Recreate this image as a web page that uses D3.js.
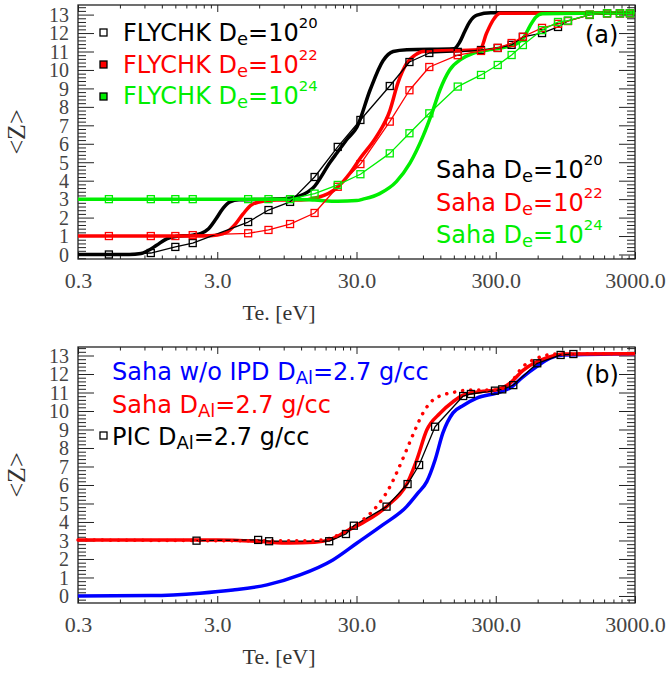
<!DOCTYPE html>
<html>
<head>
<meta charset="utf-8">
<script src="https://cdn.jsdelivr.net/npm/d3@7"></script>
<style>
  body { margin: 0; background: #fff; }
  svg { display: block; }
</style>
</head>
<body>
<div id="chart"></div>
<script>
// ---- data ----
const X_MAJOR = [0.3, 3, 30, 300, 3000];
const X_LABELS = ["0.3", "3.0", "30.0", "300.0", "3000.0"];
const Y_LABELS = d3.range(0, 14);

// FLYCHK points, panel (a)
const flyTe = [0.5, 1, 1.5, 2, 5, 7, 10, 15, 22, 32, 52, 72, 100, 160, 235, 310, 390, 470, 645, 840, 990, 1420, 1890, 2340, 2760];
const flyZ20 = [0.0, 0.08, 0.41, 0.62, 1.76, 2.41, 2.85, 4.2, 5.83, 7.29, 9.13, 10.43, 10.92, 10.98, 11.08, 11.19, 11.36, 11.79, 12.0, 12.33, 12.66, 12.98, 13.07, 13.07, 13.07];
const flyZ22 = [1.0, 1.0, 1.0, 1.05, 1.15, 1.33, 1.65, 2.25, 3.67, 4.9, 7.2, 8.9, 10.16, 10.8, 11.03, 11.2, 11.46, 11.8, 12.28, 12.5, 12.65, 13.0, 13.07, 13.07, 13.07];
const flyZ24 = [3.0, 3.0, 3.0, 3.0, 3.0, 3.0, 3.0, 3.3, 3.77, 4.35, 5.48, 6.57, 7.65, 9.1, 9.73, 10.27, 10.81, 11.35, 12.16, 12.6, 12.67, 13.0, 13.07, 13.07, 13.07];

// Saha curves, panel (a)
const sahaTe20 = [0.3, 0.7, 0.85, 0.95, 1.1, 1.3, 1.5, 2.0, 2.3, 2.6, 2.95, 3.3, 3.7, 4.3, 7, 10, 12, 14.6, 19.4, 21.7, 26, 30.2, 37.5, 46.5, 55, 69, 150, 165, 180, 195, 220, 277, 3000];
const sahaZ20 = [0, 0, 0.05, 0.2, 0.5, 0.85, 0.97, 1.05, 1.15, 1.4, 1.95, 2.5, 2.85, 2.97, 3.0, 3.05, 3.2, 3.6, 5.0, 5.5, 6.3, 6.9, 8.9, 10.5, 11.0, 11.1, 11.15, 11.5, 12.1, 12.6, 12.97, 13.1, 13.1];
const sahaTe22 = [0.3, 2.4, 3.0, 3.5, 4.0, 4.6, 5.3, 6.5, 8, 12, 16, 21.6, 26.9, 31.8, 41.8, 52.1, 59.5, 68.7, 78.9, 90.2, 231, 258, 287, 322, 3000];
const sahaZ22 = [1.0, 1.0, 1.05, 1.2, 1.6, 2.2, 2.7, 2.9, 2.95, 2.95, 3.1, 3.6, 4.4, 5.2, 6.4, 7.8, 9.3, 10.36, 10.8, 11.0, 11.1, 12.0, 12.7, 13.07, 13.1];
const sahaTe24 = [0.3, 10, 15, 22, 30, 33.4, 44, 58, 72.6, 90, 106, 119, 140, 171, 206, 273, 380, 430, 480, 530, 580, 650, 3000];
const sahaZ24 = [3.0, 3.0, 2.95, 2.88, 2.92, 3.0, 3.3, 3.95, 4.95, 6.4, 7.8, 8.9, 10.0, 10.6, 10.9, 11.1, 11.3, 11.45, 11.8, 12.4, 12.85, 13.05, 13.1];

// panel (b)
const noIpdTe = [0.3, 1.0, 2.25, 3.89, 6.83, 11.8, 20.3, 30.1, 46.3, 68.7, 83, 95.9, 110, 125, 148, 175, 219, 305, 380, 471, 591, 737, 913, 3000];
const noIpdZ = [0.0, 0.02, 0.15, 0.32, 0.6, 1.14, 1.95, 2.85, 3.84, 4.83, 5.57, 6.18, 7.35, 8.8, 9.9, 10.3, 10.7, 10.97, 11.24, 11.85, 12.4, 12.86, 13.03, 13.1];
const sahaAlTe = [0.3, 3, 6, 10, 15, 19, 22.8, 25.4, 33.4, 49.3, 70.2, 81.2, 95.9, 119.4, 148, 175, 231, 305, 380, 471, 591, 737, 913, 3000];
const sahaAlZ = [3.03, 3.02, 2.95, 2.86, 2.9, 3.03, 3.3, 3.5, 3.96, 4.83, 6.18, 7.35, 8.97, 9.88, 10.5, 10.86, 11.04, 11.14, 11.5, 12.2, 12.66, 12.94, 13.08, 13.1];
const dotTe = [0.3, 10, 15, 19.4, 28.3, 41.8, 52.1, 59.5, 68.7, 78.9, 90.1, 106.4, 125, 157.4, 196, 305, 380, 471, 556, 655, 822, 3000];
const dotZ = [3.03, 2.98, 3.0, 3.12, 3.75, 4.83, 5.9, 6.81, 7.9, 8.97, 9.89, 10.6, 10.86, 11.04, 11.14, 11.14, 11.5, 12.4, 12.76, 12.97, 13.08, 13.1];
const picTe = [2.13, 5.9, 7.07, 19.1, 25.2, 28.7, 49.3, 69.8, 84.5, 110, 175, 199, 296, 334, 401, 596, 877, 1083];
const picZ = [2.99, 3.03, 2.96, 2.96, 3.35, 3.8, 4.83, 6.05, 7.08, 9.15, 10.81, 10.92, 11.1, 11.17, 11.4, 12.58, 13.03, 13.08];

const GREEN = "#00ee00";

// ---- layout ----
const WIDTH = 669, HEIGHT = 675;
const BOX_A = { left: 78, right: 635, top: 5, bottom: 259 };
const BOX_B = { left: 78, right: 635, top: 347, bottom: 603 };
const SERIF = "'Liberation Serif', 'Times New Roman', serif";

const svg = d3.select("#chart").append("svg")
  .attr("width", WIDTH).attr("height", HEIGHT);

const X_SCALE = d3.scaleLog().domain([0.3, 3000]).range([BOX_A.left, BOX_A.right]);
const Y_A = d3.scaleLinear().domain([-0.244, 13.52]).range([BOX_A.bottom, BOX_A.top]);
const Y_B = d3.scaleLinear().domain([-0.38, 13.46]).range([BOX_B.bottom, BOX_B.top]);

const xMinor = [];
X_MAJOR.slice(0, -1).forEach((m) => {
  for (let k = 2; k <= 9; k++) xMinor.push(m * k);
});
const yMinor = d3.range(-1, 68).map((i) => i / 5).filter((v) => Math.abs(v - Math.round(v)) > 0.01);

function drawAxes(box, yScale) {
  const g = svg.append("g").attr("color", "#222");
  const tick = (axis, tr) => g.append("g").attr("transform", tr).call(axis)
    .call((s) => s.select(".domain").remove());

  tick(d3.axisBottom(X_SCALE).tickValues(xMinor).tickSize(-3.5).tickFormat(""), `translate(0,${box.bottom})`);
  tick(d3.axisTop(X_SCALE).tickValues(xMinor).tickSize(-3.5).tickFormat(""), `translate(0,${box.top})`);
  tick(d3.axisTop(X_SCALE).tickValues(X_MAJOR).tickSize(-7).tickFormat(""), `translate(0,${box.top})`);
  const xb = tick(d3.axisBottom(X_SCALE).tickValues(X_MAJOR).tickSize(-7).tickPadding(13)
    .tickFormat((d, i) => X_LABELS[i]), `translate(0,${box.bottom})`);
  xb.attr("font-family", SERIF).attr("font-size", 22);
  xb.selectAll("text").attr("fill", "#444");

  tick(d3.axisLeft(yScale).tickValues(yMinor).tickSize(-8).tickFormat(""), `translate(${box.left},0)`);
  tick(d3.axisRight(yScale).tickValues(yMinor).tickSize(-8).tickFormat(""), `translate(${box.right},0)`);
  tick(d3.axisRight(yScale).tickValues(Y_LABELS).tickSize(-16).tickFormat(""), `translate(${box.right},0)`);
  const yl = tick(d3.axisLeft(yScale).tickValues(Y_LABELS).tickSize(-16).tickPadding(9), `translate(${box.left},0)`);
  yl.attr("font-family", SERIF).attr("font-size", 20);
  yl.selectAll("text").attr("fill", "#444").attr("dy", "0.34em");

  g.append("rect")
    .attr("x", box.left).attr("y", box.top)
    .attr("width", box.right - box.left).attr("height", box.bottom - box.top)
    .attr("fill", "none").attr("stroke", "#222").attr("stroke-width", 1.3);

  svg.append("text")
    .attr("transform", `translate(25,${(box.top + box.bottom) / 2}) rotate(-90)`)
    .attr("text-anchor", "middle")
    .attr("font-family", SERIF).attr("font-size", 26)
    .attr("fill", "#333")
    .text("<Z>");

  svg.append("text")
    .attr("x", 279).attr("y", box.bottom + 61)
    .attr("text-anchor", "middle")
    .attr("font-family", SERIF).attr("font-size", 22)
    .attr("fill", "#333")
    .text("Te. [eV]");
}

function drawLine(yScale, te, z, color, width, curve, dash) {
  const line = d3.line()
    .x((d) => X_SCALE(d[0]))
    .y((d) => yScale(d[1]))
    .curve(curve);
  const p = svg.append("path")
    .datum(te.map((t, i) => [t, z[i]]))
    .attr("d", line)
    .attr("fill", "none")
    .attr("stroke", color)
    .attr("stroke-width", width)
    .attr("stroke-linejoin", "round");
  if (dash) p.attr("stroke-dasharray", dash).attr("stroke-linecap", "round");
  return p;
}

function drawSquares(yScale, te, z, color) {
  const s = 7;
  svg.append("g").selectAll("rect")
    .data(te.map((t, i) => [t, z[i]]))
    .enter()
    .append("rect")
    .attr("x", (d) => X_SCALE(d[0]) - s / 2)
    .attr("y", (d) => yScale(d[1]) - s / 2)
    .attr("width", s).attr("height", s)
    .attr("fill", "none")
    .attr("stroke", color)
    .attr("stroke-width", 1.3);
}

// text with optional sub/superscript parts: [string, "n"|"sub"|"sup"]
function richText(x, y, parts, color, size) {
  const t = svg.append("text")
    .attr("x", x).attr("y", y)
    .attr("font-family", "'DejaVu Sans', sans-serif")
    .attr("font-size", size)
    .attr("fill", color);
  let shift = 0;
  parts.forEach(([str, kind]) => {
    const target = kind === "sub" ? 4 : kind === "sup" ? -13 : 0;
    const fs = kind === "sub" ? size * 0.75 : kind === "sup" ? size * 0.62 : size;
    t.append("tspan")
      .attr("dy", target - shift)
      .attr("font-size", fs)
      .text(str);
    shift = target;
  });
  return t;
}

// ---- panel (a) ----
drawAxes(BOX_A, Y_A);
drawLine(Y_A, sahaTe20, sahaZ20, "#000", 3.5, d3.curveMonotoneX);
drawLine(Y_A, sahaTe22, sahaZ22, "#ff0000", 3.5, d3.curveMonotoneX);
drawLine(Y_A, sahaTe24, sahaZ24, GREEN, 3.5, d3.curveMonotoneX);
drawLine(Y_A, flyTe, flyZ20, "#000", 1.3, d3.curveLinear);
drawSquares(Y_A, flyTe, flyZ20, "#000");
drawLine(Y_A, flyTe, flyZ22, "#ff0000", 1.3, d3.curveLinear);
drawSquares(Y_A, flyTe, flyZ22, "#ff0000");
drawLine(Y_A, flyTe, flyZ24, GREEN, 1.3, d3.curveLinear);
drawSquares(Y_A, flyTe, flyZ24, GREEN);

const legA = [
  { exp: "20", color: "#000", fill: "#fff" },
  { exp: "22", color: "#ff0000", fill: "#ff0000" },
  { exp: "24", color: GREEN, fill: GREEN },
];
legA.forEach((d, i) => {
  svg.append("rect")
    .attr("x", 100).attr("y", 29 + i * 32)
    .attr("width", 7).attr("height", 7)
    .attr("fill", d.fill).attr("stroke", "#000").attr("stroke-width", 1.3);
  richText(123, 41 + i * 31.5, [["FLYCHK D", "n"], ["e", "sub"], ["=10", "n"], [d.exp, "sup"]], d.color, 24);
  richText(436, 178 + i * 32.5, [["Saha D", "n"], ["e", "sub"], ["=10", "n"], [d.exp, "sup"]], d.color, 24);
});
richText(585, 43, [["(a)", "n"]], "#000", 24);

// ---- panel (b) ----
drawAxes(BOX_B, Y_B);
drawLine(Y_B, noIpdTe, noIpdZ, "#0000ff", 3.5, d3.curveMonotoneX);
drawLine(Y_B, sahaAlTe, sahaAlZ, "#ff0000", 3.5, d3.curveMonotoneX);
drawLine(Y_B, picTe, picZ, "#000", 1.3, d3.curveLinear);
drawLine(Y_B, dotTe, dotZ, "#ff0000", 3.5, d3.curveMonotoneX, "0.1,8");
drawSquares(Y_B, picTe, picZ, "#000");

richText(112, 380, [["Saha w/o IPD D", "n"], ["Al", "sub"], ["=2.7 g/cc", "n"]], "#0000ff", 24);
richText(112, 413, [["Saha D", "n"], ["Al", "sub"], ["=2.7 g/cc", "n"]], "#ff0000", 24);
svg.append("rect")
  .attr("x", 100).attr("y", 432)
  .attr("width", 7).attr("height", 7)
  .attr("fill", "#fff").attr("stroke", "#000").attr("stroke-width", 1.3);
richText(112, 445, [["PIC D", "n"], ["Al", "sub"], ["=2.7 g/cc", "n"]], "#000", 24);
richText(585, 383, [["(b)", "n"]], "#000", 24);
</script>
</body>
</html>
